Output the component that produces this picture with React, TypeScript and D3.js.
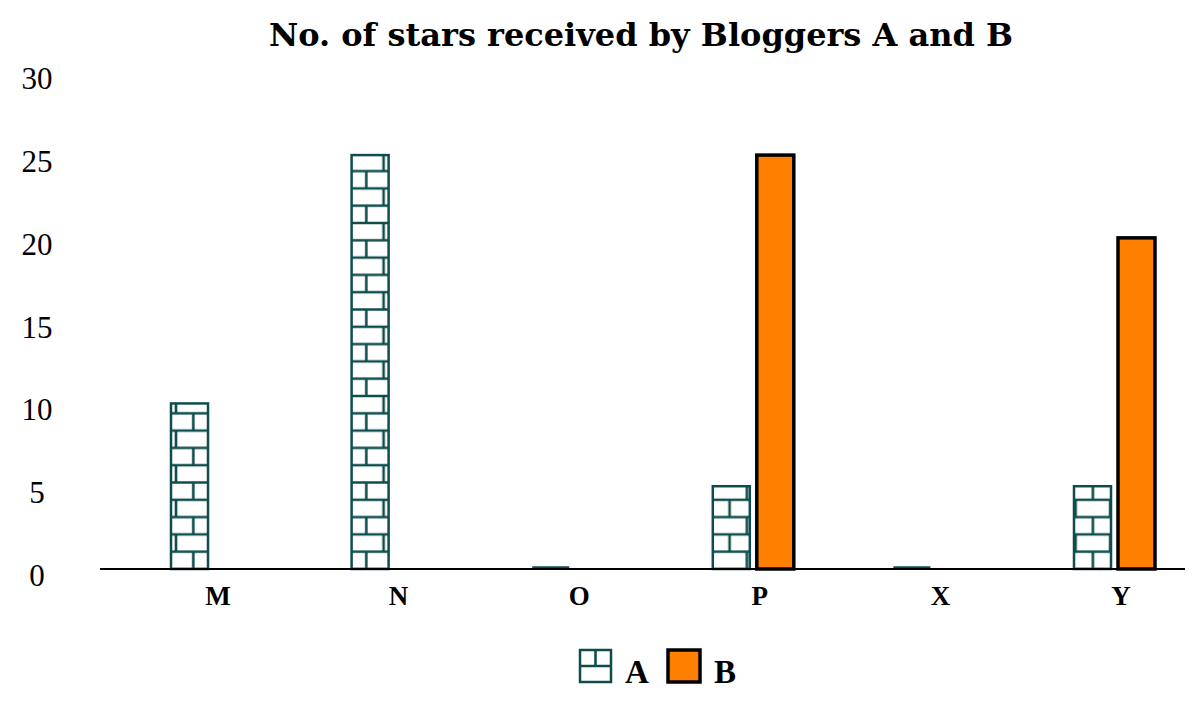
import * as d3 from "d3";
import React from "react";

const categories = ["M", "N", "O", "P", "X", "Y"];
const seriesA: (number | null)[] = [10, 25, 0, 5, 0, 5];
const seriesB: (number | null)[] = [null, null, null, 25, null, 20];
const yTicks = [0, 5, 10, 15, 20, 25, 30];
const title = "No. of stars received by Bloggers A and B";

const TEAL = "#0f4d4d";
const ORANGE = "#ff8000";

const App: React.FC = () => {
  const width = 1200;
  const height = 708;
  const baseY = 569;

  const x = d3.scalePoint<string>().domain(categories).range([218, 1121]);
  const y = d3.scaleLinear().domain([0, 30]).range([baseY, 72.3]);

  const barW = 37;
  const rowH = 17.3;

  return (
    <svg width={width} height={height} style={{ position: "absolute", left: 0, top: 0 }}>
      <defs>
        {/* brick hatch, anchored on the baseline */}
        <pattern id="brick" patternUnits="userSpaceOnUse" x={176} y={baseY} width={rowH * 2} height={rowH * 2}>
          <rect width={rowH * 2} height={rowH * 2} fill="white" />
          <line x1={0} x2={rowH * 2} y1={0} y2={0} stroke={TEAL} strokeWidth={2.6} />
          <line x1={0} x2={rowH * 2} y1={rowH} y2={rowH} stroke={TEAL} strokeWidth={2.6} />
          <line x1={0} x2={rowH * 2} y1={rowH * 2} y2={rowH * 2} stroke={TEAL} strokeWidth={2.6} />
          <line x1={0} x2={0} y1={0} y2={rowH} stroke={TEAL} strokeWidth={2.6} />
          <line x1={rowH * 2} x2={rowH * 2} y1={0} y2={rowH} stroke={TEAL} strokeWidth={2.6} />
          <line x1={rowH} x2={rowH} y1={rowH} y2={rowH * 2} stroke={TEAL} strokeWidth={2.6} />
        </pattern>
        <pattern id="brickLegend" patternUnits="userSpaceOnUse" x={579} y={649} width={33} height={34}>
          <rect width={33} height={34} fill="white" />
          <line x1={0} x2={33} y1={17} y2={17} stroke={TEAL} strokeWidth={2.6} />
          <line x1={16.5} x2={16.5} y1={0} y2={17} stroke={TEAL} strokeWidth={2.6} />
        </pattern>
      </defs>

      <rect width={width} height={height} fill="white" />

      <text
        x={641}
        y={46}
        textAnchor="middle"
        fontFamily="'DejaVu Serif', serif"
        fontWeight="bold"
        fontSize={32}
      >
        {title}
      </text>

      {yTicks.map((t) => (
        <text
          key={t}
          x={37}
          y={y(t) + 17}
          textAnchor="middle"
          fontFamily="'Liberation Serif', serif"
          fontSize={31}
        >
          {t}
        </text>
      ))}

      {/* series A */}
      {categories.map((c, i) => {
        const v = seriesA[i];
        if (v === null) return null;
        const bx = (x(c) as number) - 47;
        if (v === 0) {
          return (
            <line key={"a" + c} x1={bx} x2={bx + barW} y1={baseY - 1.5} y2={baseY - 1.5} stroke={TEAL} strokeWidth={2.5} />
          );
        }
        return (
          <rect
            key={"a" + c}
            x={bx}
            y={y(v)}
            width={barW}
            height={baseY - y(v)}
            fill="url(#brick)"
            stroke={TEAL}
            strokeWidth={2.5}
          />
        );
      })}

      {/* series B */}
      {categories.map((c, i) => {
        const v = seriesB[i];
        if (v === null) return null;
        const bx = (x(c) as number) - 3;
        return (
          <rect
            key={"b" + c}
            x={bx}
            y={y(v)}
            width={barW}
            height={baseY - y(v)}
            fill={ORANGE}
            stroke="black"
            strokeWidth={3.5}
          />
        );
      })}

      <line x1={100} x2={1185} y1={baseY} y2={baseY} stroke="black" strokeWidth={2} />

      {categories.map((c) => (
        <text
          key={c}
          x={x(c)}
          y={605}
          textAnchor="middle"
          fontFamily="'Liberation Serif', serif"
          fontWeight="bold"
          fontSize={27}
        >
          {c}
        </text>
      ))}

      {/* legend */}
      <rect x={580} y={650} width={31} height={32} fill="url(#brickLegend)" stroke={TEAL} strokeWidth={2.5} />
      <text x={625} y={683} fontFamily="'Liberation Serif', serif" fontWeight="bold" fontSize={33}>
        A
      </text>
      <rect x={668} y={650} width={32} height={32} fill={ORANGE} stroke="black" strokeWidth={3.5} />
      <text x={714} y={683} fontFamily="'Liberation Serif', serif" fontWeight="bold" fontSize={33}>
        B
      </text>
    </svg>
  );
};

export default App;
